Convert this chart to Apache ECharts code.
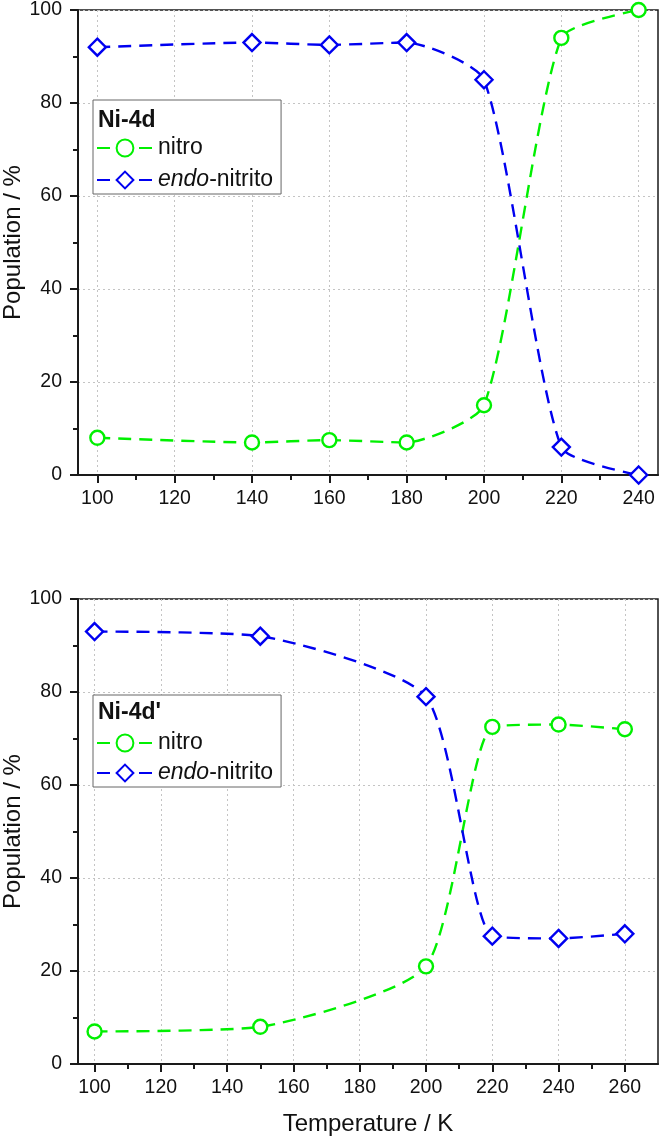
<!DOCTYPE html>
<html>
<head>
<meta charset="utf-8">
<script src="https://cdn.jsdelivr.net/npm/echarts@6/dist/echarts.min.js"></script>
<style>
  html, body { margin: 0; padding: 0; background: #fff; }
  #chart { width: 661px; height: 1139px; }
</style>
</head>
<body>
<div id="chart"></div>
<script>
// 上图 Ni-4d
var tempTop = [100, 140, 160, 180, 200, 220, 240]
var nitroTop = [8, 7, 7.5, 7, 15, 94, 100]
var endoTop = [92, 93, 92.5, 93, 85, 6, 0]
// 下图 Ni-4d'
var tempBottom = [100, 150, 200, 220, 240, 260]
var nitroBottom = [7, 8, 21, 72.5, 73, 72]
var endoBottom = [93, 92, 79, 27.5, 27, 28]
// 刻度
var xTicksTop = [100, 120, 140, 160, 180, 200, 220, 240]
var xMinorTop = [110, 130, 150, 170, 190, 210, 230]
var xTicksBottom = [100, 120, 140, 160, 180, 200, 220, 240, 260]
var xMinorBottom = [110, 130, 150, 170, 190, 210, 230, 250]

var GREEN = '#00f000'
var BLUE = '#0000f0'
var FONT = '"Liberation Sans", Arial, sans-serif'
var AXIS = '#1a1a1a'

const pairs = (xs, ys) => xs.map((x, i) => [x, ys[i]])

const gridOpt = (top, show) => ({
  left: 78, right: 3, top: top, height: 465,
  containLabel: false,
  outerBoundsMode: 'none',
  show: show, borderColor: AXIS, borderWidth: 1.5, backgroundColor: 'transparent'
})

const xAxisOpt = (idx, max, ticks, withName) => ({
  type: 'value',
  gridIndex: idx,
  min: 95,
  max: max,
  name: withName ? 'Temperature / K' : '',
  nameLocation: 'middle',
  nameGap: 48,
  nameMoveOverlap: false,
  nameTextStyle: { fontSize: 24, color: '#111', fontFamily: FONT },
  axisLine: { show: true, onZero: false, lineStyle: { color: AXIS, width: 2 } },
  axisTick: { show: true, length: 8, customValues: ticks, lineStyle: { color: AXIS, width: 2 } },
  axisLabel: { fontSize: 19.5, color: '#111', fontFamily: FONT, margin: 14, customValues: ticks },
  splitLine: { show: true, lineStyle: { color: '#c4c4c4', type: [2, 3], width: 1 } }
})

// 次刻度用的辅助坐标轴（叠在同一位置的隐藏网格上）
const minorAxisOpt = (idx, max, ticks) => ({
  type: 'value',
  gridIndex: idx,
  min: 95,
  max: max,
  axisLine: { show: false },
  axisTick: { show: true, length: 5, customValues: ticks, lineStyle: { color: AXIS, width: 2 } },
  axisLabel: { show: false },
  splitLine: { show: false }
})

const yAxisOpt = idx => ({
  type: 'value',
  gridIndex: idx,
  min: 0,
  max: 100,
  interval: 20,
  name: 'Population / %',
  nameLocation: 'middle',
  nameGap: 53,
  nameRotate: 90,
  nameMoveOverlap: false,
  nameTextStyle: { fontSize: 24, color: '#111', fontFamily: FONT },
  axisLine: { show: true, lineStyle: { color: AXIS, width: 2 } },
  axisTick: { show: true, length: 8, lineStyle: { color: AXIS, width: 2 } },
  minorTick: { show: true, splitNumber: 2, length: 5, lineStyle: { color: AXIS, width: 2 } },
  axisLabel: { fontSize: 19.5, color: '#111', fontFamily: FONT, margin: 16 },
  splitLine: { show: true, lineStyle: { color: '#c4c4c4', type: [2, 3], width: 1 } }
})

const hiddenY = idx => ({
  type: 'value', gridIndex: idx, min: 0, max: 100, show: false
})

const lineSeries = (name, idx, data, color, symbol, size) => ({
  name: name,
  type: 'line',
  xAxisIndex: idx,
  yAxisIndex: idx,
  data: data,
  smooth: 0.2,
  clip: false,
  symbol: symbol,
  symbolSize: size,
  color: color,
  itemStyle: { color: '#fff', borderColor: color, borderWidth: 2.4 },
  lineStyle: { color: color, width: 2.4, type: [13, 8] },
  z: 3
})

const legendOpt = (idx, top, gap) => ({
  orient: 'vertical',
  left: 93,
  top: top,
  padding: [35, 8, 1, 3],
  itemGap: gap,
  itemWidth: 56,
  itemHeight: 21,
  borderColor: '#666',
  borderWidth: 1,
  backgroundColor: '#fff',
  data: [
    { name: idx === 0 ? 'nitro' : 'nitro ' },
    { name: idx === 0 ? 'endo-nitrito' : 'endo-nitrito ' }
  ],
  formatter: function (name) {
    return name.indexOf('endo') === 0 ? '{i|endo}-nitrito' : 'nitro'
  },
  textStyle: {
    fontSize: 23, color: '#111', fontFamily: FONT, lineHeight: 26,
    rich: { i: { fontSize: 23, fontStyle: 'italic', color: '#111', fontFamily: FONT, lineHeight: 26 } }
  }
})

var chart = echarts.init(document.getElementById('chart'))

chart.setOption({
  animation: false,
  backgroundColor: '#fff',
  title: [
    { text: 'Ni-4d', left: 98, top: 109, padding: 0, textStyle: { fontSize: 23, fontWeight: 'bold', color: '#111', fontFamily: FONT } },
    { text: "Ni-4d'", left: 98, top: 701, padding: 0, textStyle: { fontSize: 23, fontWeight: 'bold', color: '#111', fontFamily: FONT } }
  ],
  grid: [gridOpt(10, true), gridOpt(599, true), gridOpt(10, false), gridOpt(599, false)],
  legend: [legendOpt(0, 100, 6), legendOpt(1, 695, 4)],
  xAxis: [
    xAxisOpt(0, 245, xTicksTop, false),
    xAxisOpt(1, 270, xTicksBottom, true),
    minorAxisOpt(2, 245, xMinorTop),
    minorAxisOpt(3, 270, xMinorBottom)
  ],
  yAxis: [yAxisOpt(0), yAxisOpt(1), hiddenY(2), hiddenY(3)],
  series: [
    lineSeries('nitro', 0, pairs(tempTop, nitroTop), GREEN, 'circle', 14),
    lineSeries('endo-nitrito', 0, pairs(tempTop, endoTop), BLUE, 'diamond', 17),
    lineSeries('nitro ', 1, pairs(tempBottom, nitroBottom), GREEN, 'circle', 14),
    lineSeries('endo-nitrito ', 1, pairs(tempBottom, endoBottom), BLUE, 'diamond', 17)
  ]
})
</script>
</body>
</html>
